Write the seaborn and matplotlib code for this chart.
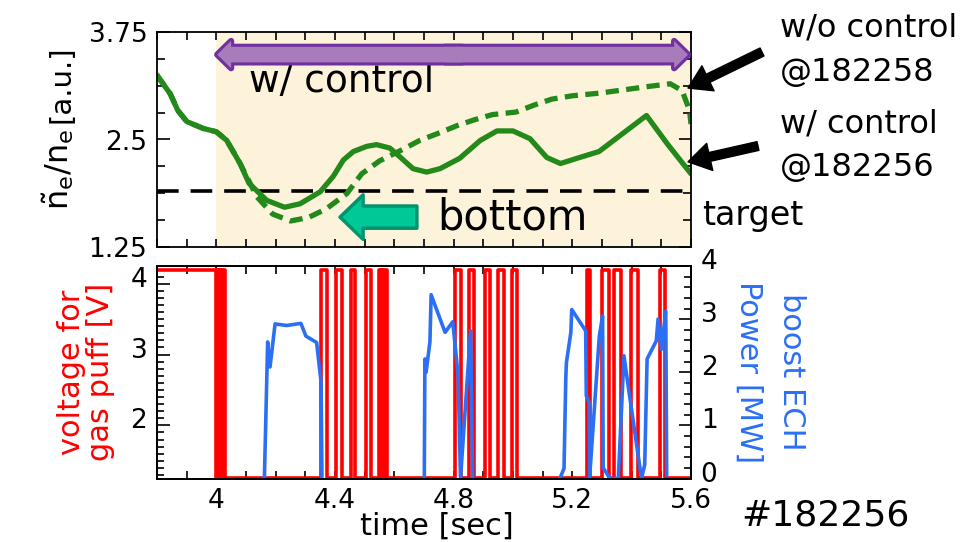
import numpy as np
import pandas as pd
import matplotlib
matplotlib.use("Agg")
import matplotlib.pyplot as plt
import matplotlib.transforms as mtransforms
import seaborn as sns
from matplotlib.patches import FancyArrowPatch
from matplotlib.ticker import MultipleLocator, FormatStrFormatter

# density ratio, w/ control (#182256) and w/o control (#182258)
ne_t_ctrl = [3.80, 3.845, 3.87, 3.90, 3.955, 4.00, 4.035, 4.08, 4.11, 4.17, 4.23, 4.282, 4.35,
             4.394, 4.428, 4.462, 4.507, 4.54, 4.585, 4.618, 4.663, 4.709, 4.754, 4.82, 4.89,
             4.946, 5.00, 5.057, 5.114, 5.16, 5.215, 5.29, 5.37, 5.45, 5.52, 5.60]
ne_ctrl = [3.25, 3.03, 2.84, 2.71, 2.63, 2.59, 2.49, 2.22, 1.99, 1.79, 1.71, 1.75, 1.89,
           2.07, 2.26, 2.36, 2.42, 2.44, 2.40, 2.30, 2.16, 2.12, 2.16, 2.28, 2.49,
           2.60, 2.60, 2.51, 2.29, 2.22, 2.28, 2.36, 2.57, 2.78, 2.45, 2.10]
ne_t_noctrl = [3.80, 3.845, 3.87, 3.90, 3.955, 4.00, 4.035, 4.08, 4.137, 4.19, 4.25, 4.31, 4.37,
               4.44, 4.49, 4.55, 4.62, 4.686, 4.754, 4.81, 4.87, 4.93, 5.01, 5.07, 5.13, 5.20,
               5.29, 5.46, 5.53, 5.57, 5.595, 5.60]
ne_noctrl = [3.25, 3.03, 2.84, 2.71, 2.63, 2.59, 2.49, 2.22, 1.83, 1.63, 1.55, 1.59, 1.69,
             1.87, 2.10, 2.25, 2.37, 2.49, 2.58, 2.66, 2.73, 2.79, 2.82, 2.90, 2.97, 3.01,
             3.04, 3.12, 3.15, 3.07, 2.84, 2.68]
target = 1.9
ctrl_start = 4.0
ctrl_end = 5.6

# gas puff valve voltage: times where the valve goes high / low
puff_on = [3.80, 4.003, 4.009, 4.015, 4.021, 4.352, 4.404, 4.453, 4.505, 4.548, 4.554,
           4.560, 4.566, 4.804, 4.853, 4.905, 4.951, 4.995, 5.249, 5.300, 5.340, 5.398, 5.497]
puff_off = [4.000, 4.006, 4.012, 4.018, 4.029, 4.372, 4.424, 4.469, 4.520, 4.551, 4.557,
            4.563, 4.575, 4.824, 4.870, 4.924, 4.971, 5.012, 5.259, 5.323, 5.364, 5.420, 5.512]
puff_hi = 4.2
puff_lo = 1.26

# boost ECH power [MW], three bursts
ech_t1 = [4.157, 4.162, 4.173, 4.181, 4.198, 4.237, 4.285, 4.302, 4.338, 4.353, 4.356]
ech_p1 = [0.0, 0.0, 2.57, 2.10, 2.91, 2.88, 2.92, 2.68, 2.56, 1.82, 0.0]
ech_t2 = [4.701, 4.703, 4.707, 4.720, 4.724, 4.771, 4.797, 4.815, 4.823, 4.857, 4.864]
ech_p2 = [0.0, 2.25, 2.00, 2.57, 3.46, 2.75, 2.95, 1.94, 0.0, 2.78, 0.0]
ech_t3 = [5.158, 5.172, 5.175, 5.178, 5.180, 5.195, 5.198, 5.245, 5.247, 5.256, 5.258,
          5.291, 5.302, 5.304, 5.327, 5.355, 5.374, 5.388, 5.433, 5.444, 5.452, 5.483,
          5.489, 5.500, 5.515, 5.518]
ech_p3 = [0.0, 0.19, 1.06, 1.90, 2.18, 2.75, 3.18, 2.78, 1.56, 1.44, 0.0,
          2.68, 3.06, 0.2, 0.0, 0.0, 2.31, 1.75, 0.0, 0.26, 2.25, 2.59,
          3.00, 2.43, 3.15, 0.06]

green = "#23891a"
red = "#ff0000"
blue = "#2a6ff5"

sns.set_style("ticks")
plt.rcParams["font.family"] = ["DejaVu Sans"]
plt.rcParams["mathtext.default"] = "regular"
plt.rcParams["axes.linewidth"] = 1.3
for k in ["text.color", "axes.labelcolor", "xtick.color", "ytick.color", "axes.edgecolor"]:
    plt.rcParams[k] = "black"

W, H = 971, 542
fig = plt.figure(figsize=(W / 100, H / 100), dpi=100)
ax_top = fig.add_axes([157 / W, 1 - 246.7 / H, 534 / W, 214.4 / H])
ax_bot = fig.add_axes([157 / W, 1 - 478.5 / H, 534 / W, 212.5 / H])
ax_ech = ax_bot.twinx()

# ---- top panel
ax_top.axvspan(ctrl_start, ctrl_end, color="#fdf3da", lw=0, zorder=0)
ax_top.axhline(target, color="k", lw=2.6, dashes=(6, 3.3), zorder=2)
sns.lineplot(x=ne_t_noctrl, y=ne_noctrl, ax=ax_top, color=green, lw=3.8,
             linestyle=(0, (2.5, 1.4)), estimator=None, sort=False)
sns.lineplot(x=ne_t_ctrl, y=ne_ctrl, ax=ax_top, color=green, lw=3.8,
             estimator=None, sort=False)

ax_top.set_xlim(3.8, 5.6)
ax_top.set_ylim(1.25, 3.75)
ax_top.xaxis.set_major_locator(MultipleLocator(0.1))
ax_top.yaxis.set_major_locator(MultipleLocator(1.25))
ax_top.yaxis.set_minor_locator(MultipleLocator(0.3125))
ax_top.yaxis.set_major_formatter(FormatStrFormatter("%g"))
ax_top.tick_params(which="both", direction="in", top=True, right=True,
                   labelbottom=False, labelsize=19, pad=7, width=1.2, length=6)
ax_top.tick_params(axis="y", which="major", length=9)
ax_top.set_xlabel("")
ax_top.set_ylabel("")
# y label of the top panel: tilde-n part is drawn larger than the unit
fig.text(69 / W, 1 - 169 / H, r"$\tilde{n}_e/n_e$", fontsize=23, rotation=90,
         rotation_mode="anchor", ha="center", va="baseline")
fig.text(69 / W, 1 - 84 / H, "[a.u.]", fontsize=21, rotation=90,
         rotation_mode="anchor", ha="center", va="baseline")

# purple double arrow: control window
mid = (ctrl_start + ctrl_end) / 2
y_arr = 3.49
purple_style = "simple,head_length=0.5,head_width=0.98,tail_width=0.56"
for a, b in [(mid + 0.03, ctrl_start + 0.003), (mid - 0.03, ctrl_end - 0.01)]:
    ax_top.add_patch(FancyArrowPatch((a, y_arr), (b, y_arr), arrowstyle=purple_style,
                     mutation_scale=20, fc="#a87bba", ec="#7030a0", lw=4.5,
                     shrinkA=0, shrinkB=0, zorder=4))
for a, b in [(mid + 0.03, ctrl_start + 0.003), (mid - 0.03, ctrl_end - 0.01)]:
    ax_top.add_patch(FancyArrowPatch((a, y_arr), (b, y_arr), arrowstyle=purple_style,
                     mutation_scale=20, fc="#a87bba", ec="none", lw=0,
                     shrinkA=0, shrinkB=0, zorder=5))
ax_top.text(4.11, 3.05, "w/ control", fontsize=27, va="baseline", ha="left")

# bottom arrow
ax_top.add_patch(FancyArrowPatch((4.676, 1.595), (4.417, 1.595),
                 arrowstyle="simple,head_length=0.83,head_width=1.6,tail_width=0.8",
                 mutation_scale=20, fc="#00c896", ec="#00946e", lw=2.5,
                 shrinkA=0, shrinkB=0, zorder=4))
ax_top.text(4.745, 1.45, "bottom", fontsize=30, va="baseline", ha="left")

# labels and arrows on the right
fig.text(780 / W, 1 - 37 / H, "w/o control", fontsize=23, va="baseline")
fig.text(780 / W, 1 - 81 / H, "@182258", fontsize=23, va="baseline")
fig.text(780 / W, 1 - 132 / H, "w/ control", fontsize=23, va="baseline")
fig.text(780 / W, 1 - 176 / H, "@182256", fontsize=23, va="baseline")
fig.text(702 / W, 1 - 225 / H, "target", fontsize=24, va="baseline")
fig.text(741 / W, 1 - 526 / H, "#182256", fontsize=26, va="baseline")

blk = "simple,head_length=0.8,head_width=1.0,tail_width=0.32"
ax_top.annotate("", xy=(5.59, 3.10), xycoords="data",
                xytext=(762 / W, 1 - 52 / H), textcoords="figure fraction",
                arrowprops=dict(arrowstyle=blk, fc="k", ec="k", mutation_scale=20,
                                shrinkA=0, shrinkB=0), annotation_clip=False)
ax_top.annotate("", xy=(5.59, 2.24), xycoords="data",
                xytext=(758 / W, 1 - 146 / H), textcoords="figure fraction",
                arrowprops=dict(arrowstyle=blk, fc="k", ec="k", mutation_scale=20,
                                shrinkA=0, shrinkB=0), annotation_clip=False)

# ---- bottom panel
puff_t = [puff_on[0]]
puff_v = [puff_hi]
for on, off in zip(puff_on, puff_off):
    if on != puff_on[0]:
        puff_t += [on, on]
        puff_v += [puff_lo, puff_hi]
    puff_t += [off, off]
    puff_v += [puff_hi, puff_lo]
puff_t.append(ctrl_end)
puff_v.append(puff_lo)
sns.lineplot(x=puff_t, y=puff_v, ax=ax_bot, color=red, lw=2.6,
             estimator=None, sort=False)

ech = pd.DataFrame({
    "t": ech_t1 + ech_t2 + ech_t3,
    "p": ech_p1 + ech_p2 + ech_p3,
    "burst": [1] * len(ech_t1) + [2] * len(ech_t2) + [3] * len(ech_t3),
})
sns.lineplot(data=ech, x="t", y="p", units="burst", ax=ax_ech, color=blue, lw=2.6,
             estimator=None, sort=False)

ax_bot.set_xlim(3.8, 5.6)
ax_bot.set_ylim(1.25, 4.25)
ax_ech.set_ylim(0, 4)
ax_bot.xaxis.set_major_locator(MultipleLocator(0.4))
ax_bot.xaxis.set_minor_locator(MultipleLocator(0.1))
ax_bot.xaxis.set_major_formatter(FormatStrFormatter("%g"))
ax_bot.yaxis.set_major_locator(MultipleLocator(1))
ax_bot.yaxis.set_minor_locator(MultipleLocator(0.1))
ax_ech.yaxis.set_major_locator(MultipleLocator(1))
ax_ech.yaxis.set_minor_locator(MultipleLocator(0.2))
ax_bot.tick_params(which="both", direction="in", top=True, right=False,
                   labelsize=19, pad=7, width=1.2)
ax_bot.tick_params(which="major", length=9)
ax_bot.tick_params(which="minor", length=5)
ax_bot.tick_params(axis="x", which="both", length=6)
ax_ech.tick_params(which="both", direction="in", labelsize=19, pad=7, width=1.2)
ax_ech.tick_params(which="major", length=9)
ax_ech.tick_params(which="minor", length=5)

# y tick labels of the lower panel sit a bit above their ticks
lift = mtransforms.ScaledTranslation(0, 7 / 100, fig.dpi_scale_trans)
for ax in (ax_bot, ax_ech):
    for lbl in ax.get_yticklabels():
        lbl.set_transform(lbl.get_transform() + lift)

ax_bot.set_xlabel("time [sec]", fontsize=22)
ax_bot.xaxis.set_label_coords(0.524, -0.225)
ax_bot.xaxis.label.set_va("center")
ax_bot.set_ylabel("voltage for\ngas puff [V]", fontsize=22, color=red, linespacing=1.0)
ax_bot.yaxis.set_label_coords(-0.133, 0.5)
ax_bot.yaxis.label.set_va("center")
ax_ech.set_ylabel("boost ECH\nPower [MW]", fontsize=22, color=blue, rotation=270,
                  linespacing=1.6)
ax_ech.yaxis.set_label_coords(1.148, 0.5)
ax_ech.yaxis.label.set_va("center")

for ax in (ax_top, ax_bot, ax_ech):
    for s in ax.spines.values():
        s.set_color("k")

fig.savefig("out.png", dpi=100)
